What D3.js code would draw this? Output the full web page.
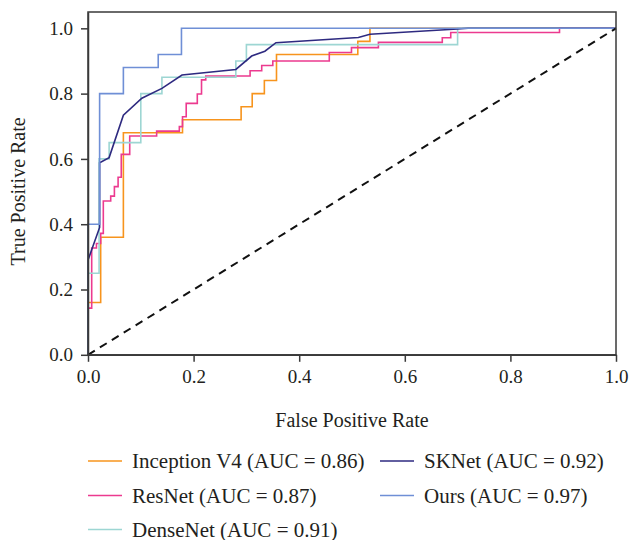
<!DOCTYPE html>
<html>
<head>
<meta charset="utf-8">
<script src="https://cdn.jsdelivr.net/npm/d3@7"></script>
<style>
  html, body { margin: 0; padding: 0; background: #fff; }
  svg { display: block; }
  text { font-family: "Liberation Serif", "DejaVu Serif", serif; fill: #231f20; }
</style>
</head>
<body>
<svg id="chart" width="631" height="540"></svg>
<script>
// ---- Data ----
const seriesNames = ["Inception V4", "ResNet", "DenseNet", "SKNet", "Ours"];
const aucValues = [0.86, 0.87, 0.91, 0.92, 0.97];
const seriesColors = ["#f7941d", "#ec3a8f", "#9dd6d3", "#2e2a80", "#6f8fd6"];

// [fpr, tpr] pairs
const inceptionV4 = [[0,0],[0,0.16],[0.024,0.16],[0.024,0.36],[0.067,0.36],[0.067,0.68],[0.179,0.68],[0.179,0.72],[0.29,0.72],[0.29,0.76],[0.311,0.76],[0.311,0.80],[0.334,0.80],[0.334,0.84],[0.357,0.84],[0.357,0.92],[0.511,0.92],[0.511,0.96],[0.534,0.96],[0.534,1.0],[1,1]];
const resNet = [[0,0],[0,0.143],[0.007,0.143],[0.007,0.327],[0.016,0.327],[0.016,0.341],[0.024,0.341],[0.024,0.372],[0.029,0.372],[0.029,0.471],[0.043,0.471],[0.043,0.486],[0.05,0.486],[0.05,0.515],[0.057,0.515],[0.057,0.544],[0.063,0.544],[0.063,0.614],[0.079,0.614],[0.079,0.670],[0.130,0.670],[0.130,0.685],[0.173,0.685],[0.173,0.699],[0.179,0.699],[0.179,0.729],[0.186,0.729],[0.186,0.770],[0.207,0.770],[0.207,0.799],[0.215,0.799],[0.215,0.842],[0.223,0.842],[0.223,0.854],[0.307,0.854],[0.307,0.870],[0.329,0.870],[0.329,0.886],[0.350,0.886],[0.350,0.900],[0.457,0.900],[0.457,0.926],[0.499,0.926],[0.499,0.941],[0.550,0.941],[0.550,0.957],[0.671,0.957],[0.671,0.971],[0.687,0.971],[0.687,0.987],[0.893,0.987],[0.893,1.0],[1,1]];
const denseNet = [[0,0],[0,0.25],[0.021,0.25],[0.021,0.60],[0.04,0.60],[0.04,0.65],[0.10,0.65],[0.10,0.80],[0.14,0.80],[0.14,0.85],[0.28,0.85],[0.28,0.90],[0.30,0.90],[0.30,0.95],[0.70,0.95],[0.70,1.0],[1,1]];
const skNet = [[0,0],[0,0.29],[0.022,0.39],[0.022,0.588],[0.04,0.604],[0.067,0.734],[0.102,0.786],[0.14,0.816],[0.178,0.857],[0.28,0.874],[0.31,0.915],[0.335,0.93],[0.356,0.956],[0.512,0.972],[0.534,0.982],[0.70,0.998],[0.72,1.0],[1,1]];
const ours = [[0,0],[0,0.40],[0.022,0.40],[0.022,0.80],[0.067,0.80],[0.067,0.88],[0.133,0.88],[0.133,0.92],[0.177,0.92],[0.177,1.0],[1,1]];
const seriesData = [inceptionV4, resNet, denseNet, skNet, ours];

const chanceLine = [[0,0],[1,1]];
const xTicks = [0, 0.2, 0.4, 0.6, 0.8, 1.0];
const yTicks = [0, 0.2, 0.4, 0.6, 0.8, 1.0];
const xTitle = "False Positive Rate";
const yTitle = "True Positive Rate";

// ---- Layout ----
const svg = d3.select("#chart");
const plotLeft = 88, plotRight = 616, plotTop = 12, plotBottom = 354.8;

const x = d3.scaleLinear().domain([0, 1]).range([plotLeft, plotRight]);
const y = d3.scaleLinear().domain([0, 1.05]).range([plotBottom, plotTop]);

// Curves
const line = d3.line().x(d => x(d[0])).y(d => y(d[1]));
const curves = svg.append("g");
seriesData.forEach((s, i) => {
  curves.append("path")
    .datum(s)
    .attr("d", line)
    .attr("fill", "none")
    .attr("stroke", seriesColors[i])
    .attr("stroke-width", 1.6)
    .attr("stroke-linejoin", "miter");
});

// Chance line
svg.append("path")
  .datum(chanceLine)
  .attr("d", line)
  .attr("fill", "none")
  .attr("stroke", "#111")
  .attr("stroke-width", 2)
  .attr("stroke-dasharray", "8,6");

// Frame (top/right)
svg.append("rect")
  .attr("x", plotLeft).attr("y", plotTop)
  .attr("width", plotRight - plotLeft).attr("height", plotBottom - plotTop)
  .attr("fill", "none").attr("stroke", "#3a3a3a").attr("stroke-width", 1.5);

// Axes
const xAxis = svg.append("g")
  .attr("transform", `translate(0,${plotBottom})`)
  .call(d3.axisBottom(x).tickValues(xTicks).tickFormat(d3.format(".1f")).tickSize(7).tickSizeOuter(0).tickPadding(8));
const yAxis = svg.append("g")
  .attr("transform", `translate(${plotLeft},0)`)
  .call(d3.axisLeft(y).tickValues(yTicks).tickFormat(d3.format(".1f")).tickSize(7).tickSizeOuter(0).tickPadding(8));

[xAxis, yAxis].forEach(g => {
  g.select(".domain").attr("stroke", "#3a3a3a").attr("stroke-width", 1.5);
  g.selectAll(".tick line").attr("stroke", "#3a3a3a").attr("stroke-width", 1.5);
  g.selectAll(".tick text").attr("font-family", "Liberation Serif, serif").attr("font-size", 19).attr("fill", "#231f20");
});

// Axis titles
svg.append("text")
  .attr("x", (plotLeft + plotRight) / 2).attr("y", 427)
  .attr("text-anchor", "middle")
  .attr("font-size", 20)
  .text(xTitle);
svg.append("text")
  .attr("transform", `translate(25,${(plotTop + plotBottom) / 2 + 8}) rotate(-90)`)
  .attr("text-anchor", "middle")
  .attr("font-size", 20)
  .text(yTitle);

// Legend
const legendPos = [[88, 461], [88, 495.5], [88, 529.5], [380, 461], [380, 495.5]];
const legend = svg.append("g");
seriesNames.forEach((name, i) => {
  const [lx, ly] = legendPos[i];
  legend.append("line")
    .attr("x1", lx).attr("x2", lx + 34)
    .attr("y1", ly).attr("y2", ly)
    .attr("stroke", seriesColors[i]).attr("stroke-width", 1.6);
  legend.append("text")
    .attr("x", lx + 44).attr("y", ly + 7)
    .attr("font-size", 21)
    .text(`${name} (AUC = ${aucValues[i].toFixed(2)})`);
});
</script>
</body>
</html>
